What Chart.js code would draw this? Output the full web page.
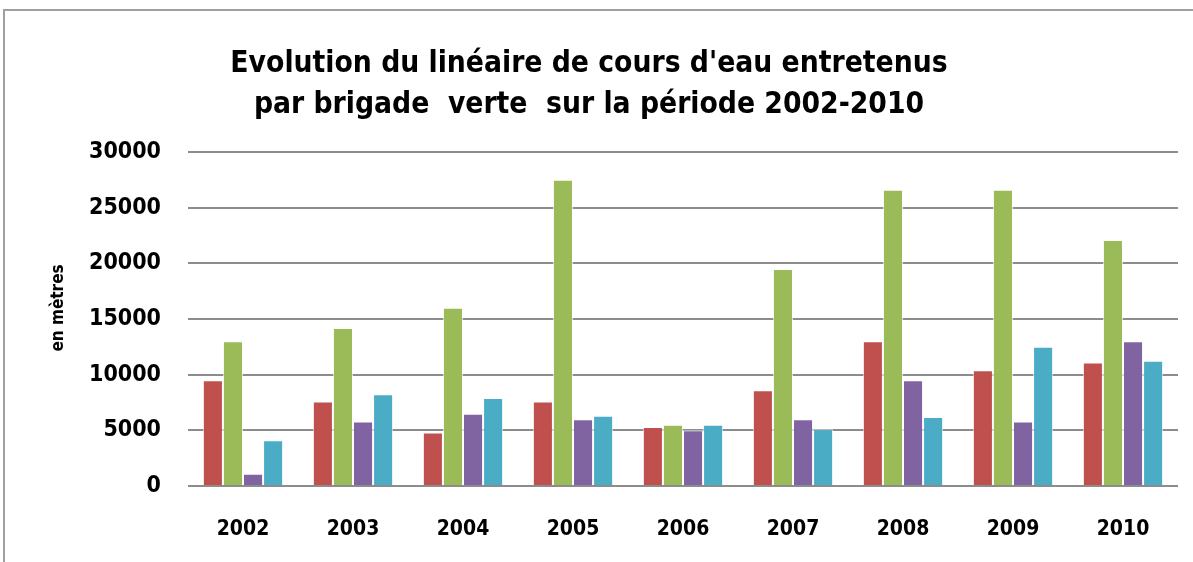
<!DOCTYPE html>
<html>
<head>
<meta charset="utf-8">
<script src="https://cdn.jsdelivr.net/npm/chart.js@4"></script>
<style>
  body { margin: 0; background: #fff; }
  #wrap { position: relative; width: 1193px; height: 562px; overflow: hidden; }
  #frame { position: absolute; left: 3px; top: 9px; width: 1400px; height: 800px; border: 2px solid #a0a0a0; }
  canvas { position: absolute; left: 0; top: 0; }
</style>
</head>
<body>
<div id="wrap">
  <div id="frame"></div>
  <canvas id="myChart" width="1193" height="562"></canvas>
</div>
<script>
// values (metres)
const years = ['2002', '2003', '2004', '2005', '2006', '2007', '2008', '2009', '2010'];
const serieRouge  = [9500, 7600, 4800, 7600, 5300, 8600, 13000, 10400, 11100];
const serieVerte  = [13000, 14200, 16000, 27500, 5500, 19500, 26600, 26600, 22100];
const serieViolet = [1100, 5800, 6500, 6000, 5000, 6000, 9500, 5800, 13000];
const serieBleue  = [4100, 8250, 7900, 6300, 5500, 5100, 6200, 12500, 11250];
const yTicks = [0, 5000, 10000, 15000, 20000, 25000, 30000];

const titre = ["Evolution du linéaire de cours d'eau entretenus", 'par brigade  verte  sur la période 2002-2010'];
const titreY = 'en mètres';
const police = "'Liberation Sans Narrow', 'DejaVu Sans Condensed', sans-serif";

// y axis title, drawn by hand since it sits a bit above the middle of the axis
const titreAxeY = {
    id: 'titreAxeY',
    afterDraw(chart) {
        const c = chart.ctx;
        c.save();
        c.translate(59, 308);
        c.rotate(-Math.PI / 2);
        c.font = 'bold 17px ' + police;
        c.fillStyle = '#000';
        c.textAlign = 'center';
        c.textBaseline = 'middle';
        c.fillText(titreY, 0, 0);
        c.restore();
    }
};

var ctx = document.getElementById('myChart').getContext('2d');

var myChart = new Chart(ctx, {
    type: 'bar',
    data: {
        labels: years,
        datasets: [
            { label: 's1', data: serieRouge,  backgroundColor: '#C0504D' },
            { label: 's2', data: serieVerte,  backgroundColor: '#9BBB59' },
            { label: 's3', data: serieViolet, backgroundColor: '#8064A2' },
            { label: 's4', data: serieBleue,  backgroundColor: '#4BACC6' }
        ]
    },
    plugins: [titreAxeY],
    options: {
        responsive: false,
        animation: false,
        layout: { padding: { left: 0, right: 15, bottom: 0 } },
        datasets: {
            bar: {
                categoryPercentage: 0.73,
                barPercentage: 1.0,
                borderWidth: 1,
                borderColor: 'rgba(255,255,255,0.7)'
            }
        },
        plugins: {
            legend: { display: false },
            tooltip: { enabled: false },
            title: {
                display: true,
                text: titre,
                color: '#000',
                font: { family: police, size: 29.7, weight: 'bold', lineHeight: 1.38 },
                padding: { top: 44, bottom: 26 }
            }
        },
        scales: {
            x: {
                afterFit: function (scale) { scale.height = 76; },
                grid: { display: false, drawTicks: false },
                border: { display: false },
                ticks: {
                    color: '#000',
                    padding: 31,
                    font: { family: police, size: 21, weight: 'bold' }
                }
            },
            y: {
                min: 0,
                max: 30000,
                afterBuildTicks: function (scale) {
                    scale.ticks = yTicks.map(v => ({ value: v }));
                },
                afterFit: function (scale) { scale.width = 188; },
                grid: { color: '#8c8c8c', lineWidth: 2, drawTicks: false },
                border: { display: false },
                ticks: {
                    color: '#000',
                    padding: 27,
                    font: { family: police, size: 23, weight: 'bold' },
                    callback: function (v) { return String(v); }
                }
            }
        }
    }
});
</script>
</body>
</html>
